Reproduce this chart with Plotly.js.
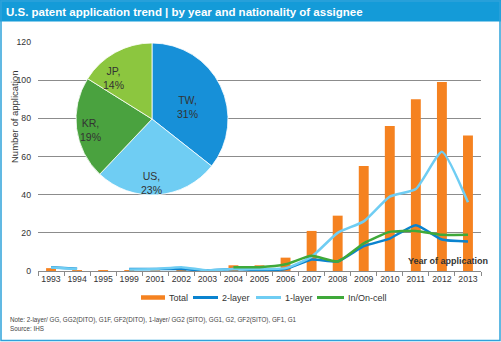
<!DOCTYPE html>
<html>
<head>
<meta charset="utf-8">
<script src="https://cdn.plot.ly/plotly-3.0.1.min.js"></script>
<style>html,body{margin:0;padding:0;background:#fff;}#chart{width:501px;height:342px;}</style>
</head>
<body>
<div id="chart"></div>
<script>
// ---- data ----
const years = ["1993","1994","1995","1999","2001","2002","2003","2004","2005","2006","2007","2008","2009","2010","2011","2012","2013"];
const total = [1.5, 0.5, 0.5, 0.5, 0.3, 1, 0.5, 3, 3, 7, 21, 29, 55, 76, 90, 99, 71];
const twoLayer = [2, 1.2, null, 1, 1, 1, 0.3, 1, 0.5, 1, 6, 5, 13, 17, 24, 16.5, 15.5];
const oneLayer = [1.8, 1, null, 0.8, 1, 2, 0.3, 1, 1, 1.5, 7.5, 20, 26, 39, 43, 62.5, 36];
const inOnCell = [null, null, null, null, null, null, null, 2, 2, 3.5, 8, 5, 14.5, 20.5, 21, 19, 19];
const nations = ["TW", "US", "KR", "JP"];
const shares = [31, 23, 19, 14];
const seriesNames = ["Total", "2-layer", "1-layer", "In/On-cell"];
const titleText = "U.S. patent application trend | by year and nationality of assignee";
const yTitle = "Number of application";
const xTitle = "Year of application";
const noteLines = ["Note: 2-layer/ GG, GG2(DITO), G1F, GF2(DITO), 1-layer/ GG2 (SITO), GG1, G2, GF2(SITO), GF1, G1", "Source: IHS"];

// ---- layout helpers (pixel -> paper) ----
const W = 501, H = 342, ML = 38, MR = 20, MT = 42, MB = 71;
const PW = W - ML - MR, PH = H - MT - MB;
const X = px => (px - ML) / PW;
const Y = py => (H - MB - py) / PH;

const cOrange = "#f58220", cBlue = "#0a83cf", cLight = "#6fcdf3", cGreen = "#3fa93a";
const seriesColors = [cOrange, cBlue, cLight, cGreen];
const pieColors = ["#1790d8", "#6fcdf3", "#4aa23f", "#8cc63f"];
const font = "Arial, 'Liberation Sans', sans-serif";

// label placement for pie slices (pixel positions, layout only)
const pieLabelPos = [[187, 107], [151, 183], [90, 130], [113, 78]];
// custom legend placement (swatch x0, x1, text x) in pixels
const legendPos = [[141, 165, 167], [193, 218, 220], [256, 281, 283], [317, 344, 346]];
const legendY = 297.5;

const traces = [
  {type: "bar", x: years, y: total, name: seriesNames[0], marker: {color: cOrange}, showlegend: false, hoverinfo: "x+y"},
  {type: "scatter", mode: "lines", x: years, y: twoLayer, name: seriesNames[1], showlegend: false, line: {color: cBlue, width: 2.5, shape: "spline", smoothing: 0.5}},
  {type: "scatter", mode: "lines", x: years, y: oneLayer, name: seriesNames[2], showlegend: false, line: {color: cLight, width: 2.5, shape: "spline", smoothing: 0.5}},
  {type: "scatter", mode: "lines", x: years, y: inOnCell, name: seriesNames[3], showlegend: false, line: {color: cGreen, width: 2.5, shape: "spline", smoothing: 0.5}},
  {type: "pie", labels: nations, values: shares, sort: false, direction: "clockwise", rotation: 0,
   marker: {colors: pieColors, line: {color: "#ffffff", width: 0.8}},
   textinfo: "none",
   domain: {x: [X(76), X(228)], y: [Y(195), Y(43)]}, showlegend: false, hoverinfo: "label+value"}
];

const shapes = [
  {type: "rect", xref: "paper", yref: "paper", x0: X(0), x1: X(501), y0: Y(21.5), y1: Y(0), fillcolor: "#149bd8", line: {width: 0}, layer: "below"},
  {type: "rect", xref: "paper", yref: "paper", x0: X(1), x1: X(500), y0: Y(340.5), y1: Y(1), line: {color: "#2ea2da", width: 1.5}, fillcolor: "rgba(0,0,0,0)", layer: "below"}
];
const annotations = [
  {text: yTitle, xref: "paper", yref: "paper", x: X(14), y: Y(117), textangle: -90, showarrow: false,
   xanchor: "center", yanchor: "middle", font: {size: 9.5, color: "#333333"}},
  {text: "<b>" + xTitle + "</b>", xref: "paper", yref: "paper", x: X(448), y: Y(261), showarrow: false,
   xanchor: "center", yanchor: "middle", font: {size: 9, color: "#333333"}},
  {text: noteLines[0], xref: "paper", yref: "paper", x: X(8), y: Y(320), showarrow: false,
   xanchor: "left", yanchor: "middle", font: {size: 6.3, color: "#444444"}},
  {text: noteLines[1], xref: "paper", yref: "paper", x: X(8), y: Y(328), showarrow: false,
   xanchor: "left", yanchor: "middle", font: {size: 6.3, color: "#444444"}}
];
// pie slice labels from the data arrays
nations.forEach((n, i) => {
  annotations.push({text: n + ",<br>" + shares[i] + "%", xref: "paper", yref: "paper",
    x: X(pieLabelPos[i][0]), y: Y(pieLabelPos[i][1]), showarrow: false, xanchor: "center", yanchor: "middle",
    font: {size: 10.5, color: "#333333"}});
});
// legend built from series names and colours
seriesNames.forEach((n, i) => {
  const p = legendPos[i];
  shapes.push({type: "line", xref: "paper", yref: "paper", x0: X(p[0]), x1: X(p[1]), y0: Y(legendY), y1: Y(legendY),
    line: {color: seriesColors[i], width: i === 0 ? 4.5 : 3}});
  annotations.push({text: n, xref: "paper", yref: "paper", x: X(p[2]), y: Y(legendY), showarrow: false,
    xanchor: "left", yanchor: "middle", font: {size: 9, color: "#333333"}});
});

const layout = {
  width: W, height: H,
  margin: {l: ML, r: MR, t: MT, b: MB, pad: 0},
  paper_bgcolor: "#ffffff", plot_bgcolor: "#ffffff",
  font: {family: font, size: 10, color: "#333333"},
  showlegend: false,
  title: {text: "<b>" + titleText + "</b>", xref: "container", yref: "container", x: 6 / W, y: 1 - 11.5 / H,
          xanchor: "left", yanchor: "middle", font: {family: font, size: 11.5, color: "#ffffff"}},
  bargap: 0.62,
  xaxis: {type: "category", showgrid: false, showline: true, linecolor: "#8a8a8a", linewidth: 1,
          ticks: "outside", tickson: "boundaries", ticklen: 4, tickcolor: "#8a8a8a", tickangle: 0, automargin: false,
          tickfont: {size: 8.7, color: "#333333"}, zeroline: false, fixedrange: true},
  yaxis: {range: [0, 120], dtick: 20, showgrid: true, gridcolor: "#8c8c8c", gridwidth: 1, automargin: false,
          zeroline: false, showline: false, ticks: "", ticklabelstandoff: 6,
          tickfont: {size: 8.7, color: "#333333"}, fixedrange: true},
  shapes: shapes,
  annotations: annotations
};

Plotly.newPlot("chart", traces, layout, {staticPlot: true, displayModeBar: false});
</script>
</body>
</html>
